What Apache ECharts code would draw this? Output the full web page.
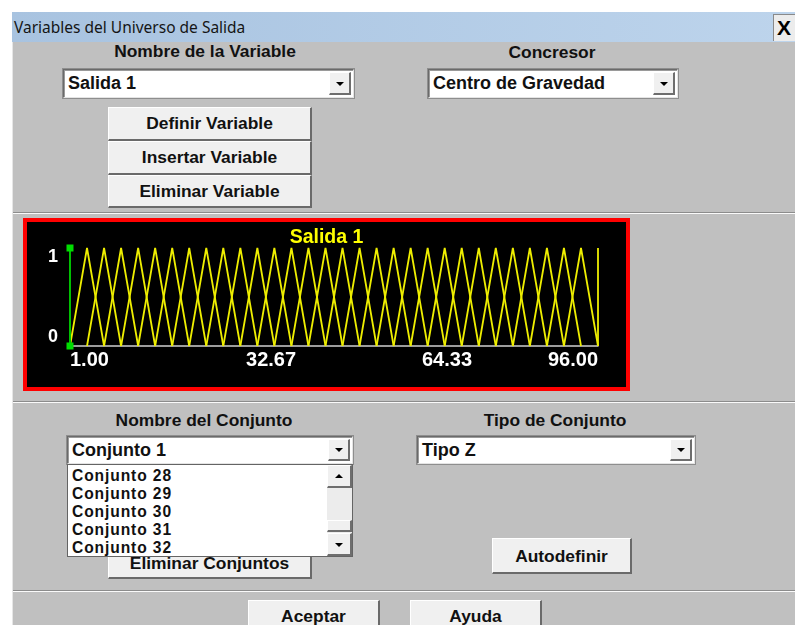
<!DOCTYPE html>
<html>
<head>
<meta charset="utf-8">
<script src="https://cdn.jsdelivr.net/npm/echarts@6/dist/echarts.min.js"></script>
<style>
  body { margin: 0; width: 795px; height: 625px; background: #fff; overflow: hidden;
         font-family: "Liberation Sans", Arial, sans-serif; }
  .abs { position: absolute; }
  #dlg { left: 12px; top: 12px; width: 783px; height: 613px; background: #c0c0c0;
         border-left: 1px solid #e6e6e6; box-sizing: border-box; }
  #titlebar { left: 12px; top: 12px; width: 783px; height: 30px;
              background: linear-gradient(to right, #a8c3e0, #bdd4ec); }
  #titletext { left: 14px; top: 17px; font-family: "Noto Sans", sans-serif; font-size: 15.5px;
               color: #151515; line-height: 20px; white-space: nowrap; }
  #closebtn { left: 773px; top: 14px; width: 24px; height: 27px; background: #ececec;
              border-left: 1px solid #8a8a8a; border-top: 1px solid #8a8a8a; box-sizing: border-box;
              font-weight: bold; font-size: 21px; line-height: 26px; padding-left: 3px; }
  .lbl { width: 300px; text-align: center; font-weight: bold; font-size: 17.4px;
         line-height: 20px; color: #111; white-space: nowrap; }
  .combo { background: #fff; box-sizing: border-box;
           border-top: 1px solid #6a6a6a; border-left: 1px solid #6a6a6a;
           border-right: 1px solid #e4e4e4; border-bottom: 1px solid #e4e4e4;
           box-shadow: inset 1px 1px 0 #9a9a9a, 0 0 0 1px #8e8e8e; }
  .combo .txt { position: absolute; left: 4px; top: 0; font-weight: bold; font-size: 18px;
                color: #111; white-space: nowrap; }
  .ddbtn { position: absolute; right: 2px; width: 22px; background: #f0f0f0; box-sizing: border-box;
           border-top: 1px solid #fff; border-left: 1px solid #fff;
           border-right: 2px solid #6e6e6e; border-bottom: 2px solid #6e6e6e; }
  .down, .up { position: absolute; left: 6px; width: 0; height: 0;
               border-left: 4px solid transparent; border-right: 4px solid transparent; }
  .down { border-top: 4px solid #000; }
  .up { border-bottom: 4px solid #000; }
  .btn { background: #f0f0f0; box-sizing: border-box; text-align: center;
         border-top: 1px solid #fff; border-left: 1px solid #fff;
         border-right: 2px solid #6a6a6a; border-bottom: 2px solid #6a6a6a;
         font-weight: bold; font-size: 17.4px; color: #111; white-space: nowrap; }
  .sep { left: 13px; width: 782px; height: 1px; background: #8c8c8c; border-bottom: 1px solid #fafafa; }
  #listbox { left: 67px; top: 464px; width: 286px; height: 93px; background: #fff;
             border: 1px solid #646464; box-sizing: border-box; overflow: hidden; }
  .item { position: absolute; left: 4px; font-weight: bold; font-size: 15.6px; letter-spacing: 0.9px;
          line-height: 17px; color: #111; white-space: nowrap; }
  #sbar { position: absolute; left: 259px; top: 0; width: 25px; height: 91px; background: #ececec; }
  #chartbox { left: 23px; top: 218px; width: 607px; height: 173px; box-sizing: border-box;
              border: 4px solid #ff0000; background: #000; }
  #chart { position: absolute; left: 0; top: 0; width: 599px; height: 165px; }
</style>
</head>
<body>
<div id="dlg" class="abs"></div>
<div id="titlebar" class="abs"></div>
<div id="titletext" class="abs">Variables del Universo de Salida</div>
<div id="closebtn" class="abs">X</div>

<div class="abs lbl" style="left:55px;top:41px;">Nombre de la Variable</div>
<div class="abs lbl" style="left:402px;top:42px;">Concresor</div>

<div class="abs combo" style="left:63px;top:69px;width:291px;height:29px;">
  <div class="txt" style="line-height:27px;">Salida 1</div>
  <div class="ddbtn" style="top:2px;height:23px;"><div class="down" style="top:9px;"></div></div>
</div>
<div class="abs combo" style="left:428px;top:69px;width:250px;height:29px;">
  <div class="txt" style="line-height:27px;">Centro de Gravedad</div>
  <div class="ddbtn" style="top:2px;height:23px;"><div class="down" style="top:9px;"></div></div>
</div>

<div class="abs btn" style="left:108px;top:107px;width:204px;height:34px;line-height:31px;">Definir Variable</div>
<div class="abs btn" style="left:108px;top:141px;width:204px;height:34px;line-height:31px;">Insertar Variable</div>
<div class="abs btn" style="left:108px;top:175px;width:204px;height:33px;line-height:30px;">Eliminar Variable</div>

<div class="abs sep" style="top:212px;"></div>

<div id="chartbox" class="abs"><div id="chart"></div></div>

<div class="abs sep" style="top:401px;"></div>

<div class="abs lbl" style="left:54px;top:410px;">Nombre del Conjunto</div>
<div class="abs lbl" style="left:405px;top:410px;">Tipo de Conjunto</div>

<div class="abs btn" style="left:108px;top:546px;width:204px;height:33px;line-height:32px;">Eliminar Conjuntos</div>

<div class="abs combo" style="left:67px;top:436px;width:286px;height:28px;">
  <div class="txt" style="line-height:27px;">Conjunto 1</div>
  <div class="ddbtn" style="top:2px;height:22px;"><div class="down" style="top:8px;"></div></div>
</div>
<div class="abs combo" style="left:417px;top:436px;width:278px;height:28px;">
  <div class="txt" style="line-height:27px;">Tipo Z</div>
  <div class="ddbtn" style="top:2px;height:22px;"><div class="down" style="top:8px;"></div></div>
</div>

<div id="listbox" class="abs">
  <div id="items"></div>
  <div id="sbar">
    <div class="ddbtn" style="right:0;top:0;width:25px;height:23px;"><div class="up" style="top:8px;left:7px;"></div></div>
    <div class="ddbtn" style="right:0;top:55px;width:25px;height:12px;"></div>
    <div class="ddbtn" style="right:0;top:68px;width:25px;height:23px;"><div class="down" style="top:9px;left:7px;"></div></div>
  </div>
</div>

<div class="abs btn" style="left:492px;top:538px;width:140px;height:36px;line-height:34px;">Autodefinir</div>

<div class="abs sep" style="top:590px;"></div>

<div class="abs btn" style="left:248px;top:600px;width:132px;height:32px;line-height:31px;">Aceptar</div>
<div class="abs btn" style="left:410px;top:600px;width:132px;height:32px;line-height:31px;">Ayuda</div>

<script>
// membership function peaks of the 32 sets
const peaks = [1.00, 4.06, 7.13, 10.19, 13.26, 16.32, 19.39, 22.45, 25.52, 28.58, 31.65,
  34.71, 37.77, 40.84, 43.90, 46.97, 50.03, 53.10, 56.16, 59.23, 62.29, 65.35, 68.42,
  71.48, 74.55, 77.61, 80.68, 83.74, 86.81, 89.87, 92.94, 96.00];
const xTickValues = [1.00, 32.67, 64.33, 96.00];
const yTickValues = [0, 1];
const listItems = ['Conjunto 28', 'Conjunto 29', 'Conjunto 30', 'Conjunto 31', 'Conjunto 32'];
const selectedSet = 0;

// dropdown list
const itemsDiv = document.getElementById('items');
listItems.forEach((name, i) => {
  const d = document.createElement('div');
  d.className = 'item';
  d.style.top = (2 + i * 18) + 'px';
  d.textContent = name;
  itemsDiv.appendChild(d);
});

// build each set's polyline: Z at the left end, S at the right end, triangles between
const series = [];
for (let i = 0; i < peaks.length; i++) {
  let data;
  if (i === 0) {
    data = [[peaks[0], 1], [peaks[0], 0]];
  } else if (i === peaks.length - 1) {
    data = [[peaks[i], 0], [peaks[i], 1]];
  } else {
    data = [[peaks[i - 1], 0], [peaks[i], 1], [peaks[i + 1], 0]];
  }
  const sel = i === selectedSet;
  series.push({
    name: 'Conjunto ' + (i + 1),
    type: 'line',
    data: data,
    z: sel ? 5 : 2,
    showSymbol: sel,
    symbol: 'rect',
    symbolSize: 7,
    itemStyle: { color: '#00dd00' },
    lineStyle: { color: sel ? '#00c000' : '#eeee00', width: sel ? 2 : 1.8 },
    silent: true
  });
}

const myChart = echarts.init(document.getElementById('chart'));
const option = {
  animation: false,
  backgroundColor: '#000',
  title: {
    text: 'Salida 1',
    left: 'center',
    top: 1,
    textStyle: { color: '#ffff00', fontSize: 19.5, fontWeight: 'bold',
                 fontFamily: '"Liberation Sans", Arial, sans-serif' }
  },
  grid: { left: 43, right: 28, top: 26, bottom: 41, outerBoundsMode: 'none' },
  xAxis: {
    type: 'value',
    min: 1,
    max: 96,
    axisLine: { show: true, onZero: false, lineStyle: { color: '#cfcfcf', width: 1.5 } },
    axisTick: { show: false },
    splitLine: { show: false },
    axisLabel: {
      customValues: xTickValues,
      formatter: v => v.toFixed(2),
      color: '#fff',
      fontWeight: 'bold',
      fontSize: 20,
      fontFamily: '"Liberation Sans", Arial, sans-serif',
      align: 'left',
      alignMaxLabel: 'right',
      margin: 4
    }
  },
  yAxis: {
    type: 'value',
    min: 0,
    max: 1,
    axisLine: { show: false },
    axisTick: { show: false },
    splitLine: { show: false },
    axisLabel: {
      customValues: yTickValues,
      color: '#fff',
      fontWeight: 'bold',
      fontSize: 18,
      fontFamily: '"Liberation Sans", Arial, sans-serif',
      margin: 12,
      verticalAlignMaxLabel: 'top',
      verticalAlignMinLabel: 'bottom'
    }
  },
  series: series
};
myChart.setOption(option);
</script>
</body>
</html>
